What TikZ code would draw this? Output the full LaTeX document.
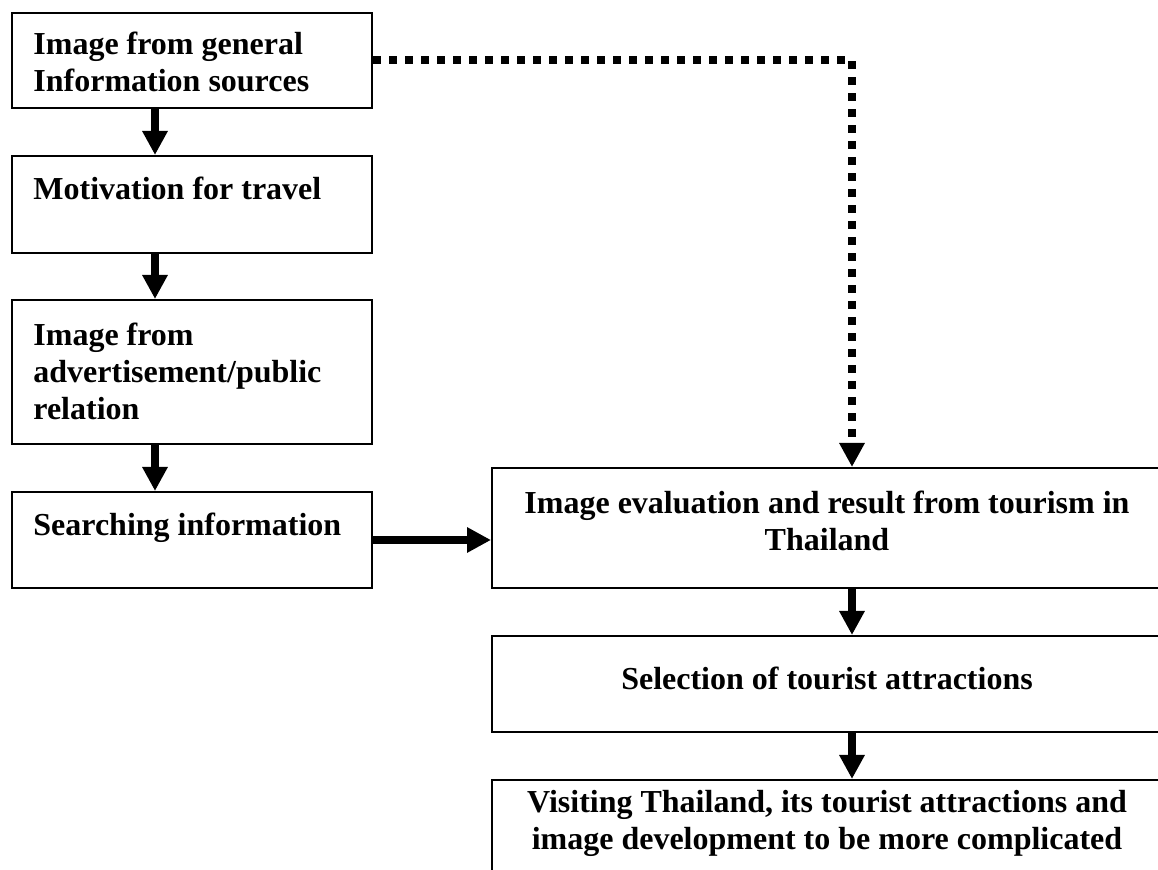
\documentclass[tikz,border=0pt]{standalone}
\usepackage{fontspec}
\setmainfont{Liberation Serif}
\usetikzlibrary{arrows.meta,calc}
\begin{document}
\begin{tikzpicture}[x=0.5pt,y=-0.5pt,
  box/.style={draw, line width=1pt, inner sep=0pt, anchor=north west, minimum width=180pt},
  rbox/.style={draw, line width=1pt, inner sep=0pt, anchor=north west, minimum width=335pt},
  lt/.style={font=\fontsize{16}{18.5}\selectfont\bfseries, inner sep=0pt, align=left, anchor=north west},
  ct/.style={font=\fontsize{16}{18.5}\selectfont\bfseries, inner sep=0pt, align=center, anchor=north},
  flow/.style={line width=4pt, -{Triangle[width=12pt,length=12pt]}},
  dotflow/.style={line width=4pt, dash pattern=on 4pt off 4pt, -{Triangle[width=12pt,length=12pt]}}]
\clip (0,0) rectangle (1158,870);
\fill[white] (0,0) rectangle (1158,870);
% left column
\node[box, minimum height=47.5pt] (b1) at (11,12) {};
\node[box, minimum height=48.5pt] (b2) at (11,155) {};
\node[box, minimum height=72pt] (b3) at (11,299) {};
\node[box, minimum height=48pt] (b4) at (11,491) {};
\node[lt] (t1) at ($(b1.north west)+(22,20)$) {Image from general\\Information sources};
\node[lt] (t2) at ($(b2.north west)+(22,22)$) {Motivation for travel};
\node[lt] (t3) at ($(b3.north west)+(22,24)$) {Image from\\advertisement/public\\relation};
\node[lt] (t4) at ($(b4.north west)+(22,22)$) {Searching information};
% right column
\node[rbox, minimum height=60pt] (r1) at (491,467) {};
\node[rbox, minimum height=48pt] (r2) at (491,635) {};
\node[rbox, minimum height=75pt] (r3) at (491,779) {};
\node[ct] (s1) at ($(r1.north)+(0,24)$) {Image evaluation and result from tourism in\\Thailand};
\node[ct] (s2) at ($(r2.north)+(0,32)$) {Selection of tourist attractions};
\node[ct] (s3) at ($(r3.north)+(0,11)$) {Visiting Thailand, its tourist attractions and\\image development to be more complicated};
% connectors
\coordinate (lx) at (155,0);
\coordinate (rx) at (852,0);
\draw[flow] (b1.south -| lx) -- (b2.north -| lx);
\draw[flow] (b2.south -| lx) -- (b3.north -| lx);
\draw[flow] (b3.south -| lx) -- (b4.north -| lx);
\draw[flow] (b4.east) -- (b4.east -| r1.west);
\draw[flow] (r1.south -| rx) -- (r2.north -| rx);
\draw[flow] (r2.south -| rx) -- (r3.north -| rx);
\coordinate (dc) at (b1.east -| rx);
\draw[dotflow] (b1.east) -- (dc) -- (dc |- r1.north);
\end{tikzpicture}
\end{document}
